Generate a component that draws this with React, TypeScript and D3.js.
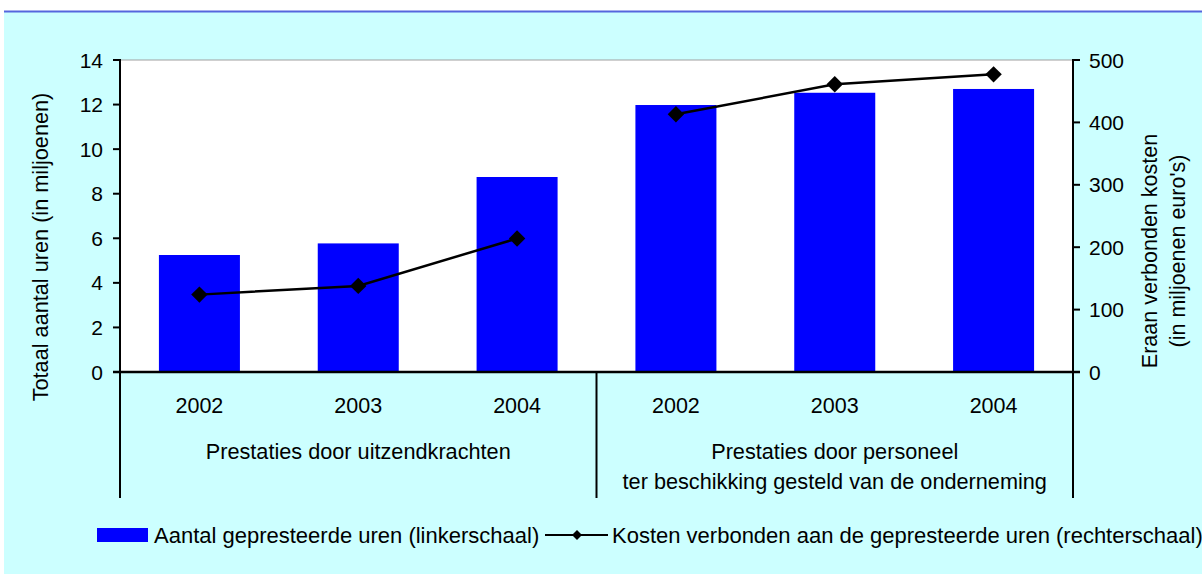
import React from "react";
import * as d3 from "d3";

const groups = ["Prestaties door uitzendkrachten", "Prestaties door personeel|ter beschikking gesteld van de onderneming"];
const years = ["2002", "2003", "2004"];
const categories = ["A2002", "A2003", "A2004", "B2002", "B2003", "B2004"];
const hours = [5.25, 5.77, 8.75, 11.98, 12.53, 12.7];
const costs = [124, 138, 214, 413, 461, 477];
const leftTicks = [0, 2, 4, 6, 8, 10, 12, 14];
const rightTicks = [0, 100, 200, 300, 400, 500];
const seriesNames = ["Aantal gepresteerde uren (linkerschaal)", "Kosten verbonden aan de gepresteerde uren (rechterschaal)"];

const W = 1202, H = 574;
const L = 120, R = 1073, T = 60, B = 372;
const FONT = "'Liberation Sans', Arial, sans-serif";

export default function App() {
  const x = d3.scaleBand<string>().domain(categories).range([L, R]).paddingInner(0.49).paddingOuter(0.245);
  const yL = d3.scaleLinear().domain([0, 14]).range([B, T]);
  const yR = d3.scaleLinear().domain([0, 500]).range([B, T]);
  const cx = (i: number) => x(categories[i])! + x.bandwidth() / 2;
  const line = d3.line<[number, number]>().x((d) => cx(d[0])).y((d) => yR(d[1]));
  const seg1 = costs.slice(0, 3).map((v, i) => [i, v] as [number, number]);
  const seg2 = costs.slice(3).map((v, i) => [i + 3, v] as [number, number]);
  const diamond = d3.symbol().type(d3.symbolSquare).size(135)() as string;
  const diamondSmall = d3.symbol().type(d3.symbolSquare).size(50)() as string;
  const step = (R - L) / categories.length;

  return (
    <svg width={W} height={H} style={{ position: "absolute", left: 0, top: 0 }} fontFamily={FONT}>
      <rect x={0} y={0} width={W} height={H} fill="#ffffff" />
      <rect x={4} y={12} width={W - 4} height={H - 12} fill="#CCFFFF" />
      <line x1={4} x2={W} y1={11.5} y2={11.5} stroke="#5566DD" strokeWidth={2} />
      <rect x={L} y={T} width={R - L} height={B - T} fill="#ffffff" />
      <line x1={L} x2={R} y1={T} y2={T} stroke="#a0a0a0" strokeWidth={1} />

      {hours.map((v, i) => (
        <rect key={i} x={x(categories[i])} y={yL(v)} width={x.bandwidth()} height={B - yL(v)} fill="#0000FF" />
      ))}

      <path d={line(seg1) || ""} fill="none" stroke="#000" strokeWidth={2.5} />
      <path d={line(seg2) || ""} fill="none" stroke="#000" strokeWidth={2.5} />
      {costs.map((v, i) => (
        <path key={i} d={diamond} transform={`translate(${cx(i)},${yR(v)}) rotate(45)`} fill="#000" />
      ))}

      {/* left axis */}
      <line x1={L} x2={L} y1={T - 1} y2={B} stroke="#000" strokeWidth={2} />
      {leftTicks.map((t) => (
        <g key={t}>
          <line x1={L - 7} x2={L} y1={yL(t)} y2={yL(t)} stroke="#000" strokeWidth={2} />
          <text x={L - 17} y={yL(t)} dy="0.36em" textAnchor="end" fontSize={21}>{t}</text>
        </g>
      ))}
      {/* right axis */}
      <line x1={R} x2={R} y1={T - 1} y2={B} stroke="#000" strokeWidth={2} />
      {rightTicks.map((t) => (
        <g key={t}>
          <line x1={R} x2={R + 7} y1={yR(t)} y2={yR(t)} stroke="#000" strokeWidth={2} />
          <text x={R + 16} y={yR(t)} dy="0.36em" textAnchor="start" fontSize={21}>{t}</text>
        </g>
      ))}
      {/* bottom axis */}
      <line x1={L - 7} x2={R + 7} y1={B} y2={B} stroke="#000" strokeWidth={2.5} />
      {[0, 3, 6].map((k) => (
        <line key={k} x1={L + k * step} x2={L + k * step} y1={B} y2={498} stroke="#000" strokeWidth={2} />
      ))}
      {categories.map((c, i) => (
        <text key={c} x={cx(i)} y={405} dy="0.36em" textAnchor="middle" fontSize={21.5}>{years[i % 3]}</text>
      ))}
      {groups.map((g, gi) => {
        const gx = L + (gi * 3 + 1.5) * step;
        const lines = g.split("|");
        return lines.map((ln, li) => (
          <text key={gi + "-" + li} x={gx} y={451 + li * 30} dy="0.36em" textAnchor="middle" fontSize={21.7}>{ln}</text>
        ));
      })}

      {/* axis titles */}
      <text transform={`translate(40,247) rotate(-90)`} textAnchor="middle" dy="0.36em" fontSize={21.7}>Totaal aantal uren (in miljoenen)</text>
      <text transform={`translate(1149,251) rotate(-90)`} textAnchor="middle" dy="0.36em" fontSize={21.5}>Eraan verbonden kosten</text>
      <text transform={`translate(1177,251) rotate(-90)`} textAnchor="middle" dy="0.36em" fontSize={21.5}>(in miljoenen euro's)</text>

      {/* legend */}
      <rect x={97} y={528} width={51} height={14} fill="#0000FF" />
      <text x={154} y={535} dy="0.36em" fontSize={22}>{seriesNames[0]}</text>
      <line x1={545} x2={608} y1={535} y2={535} stroke="#000" strokeWidth={2} />
      <path d={diamondSmall} transform="translate(577,535) rotate(45)" fill="#000" />
      <text x={612} y={535} dy="0.36em" fontSize={22}>{seriesNames[1]}</text>
    </svg>
  );
}
